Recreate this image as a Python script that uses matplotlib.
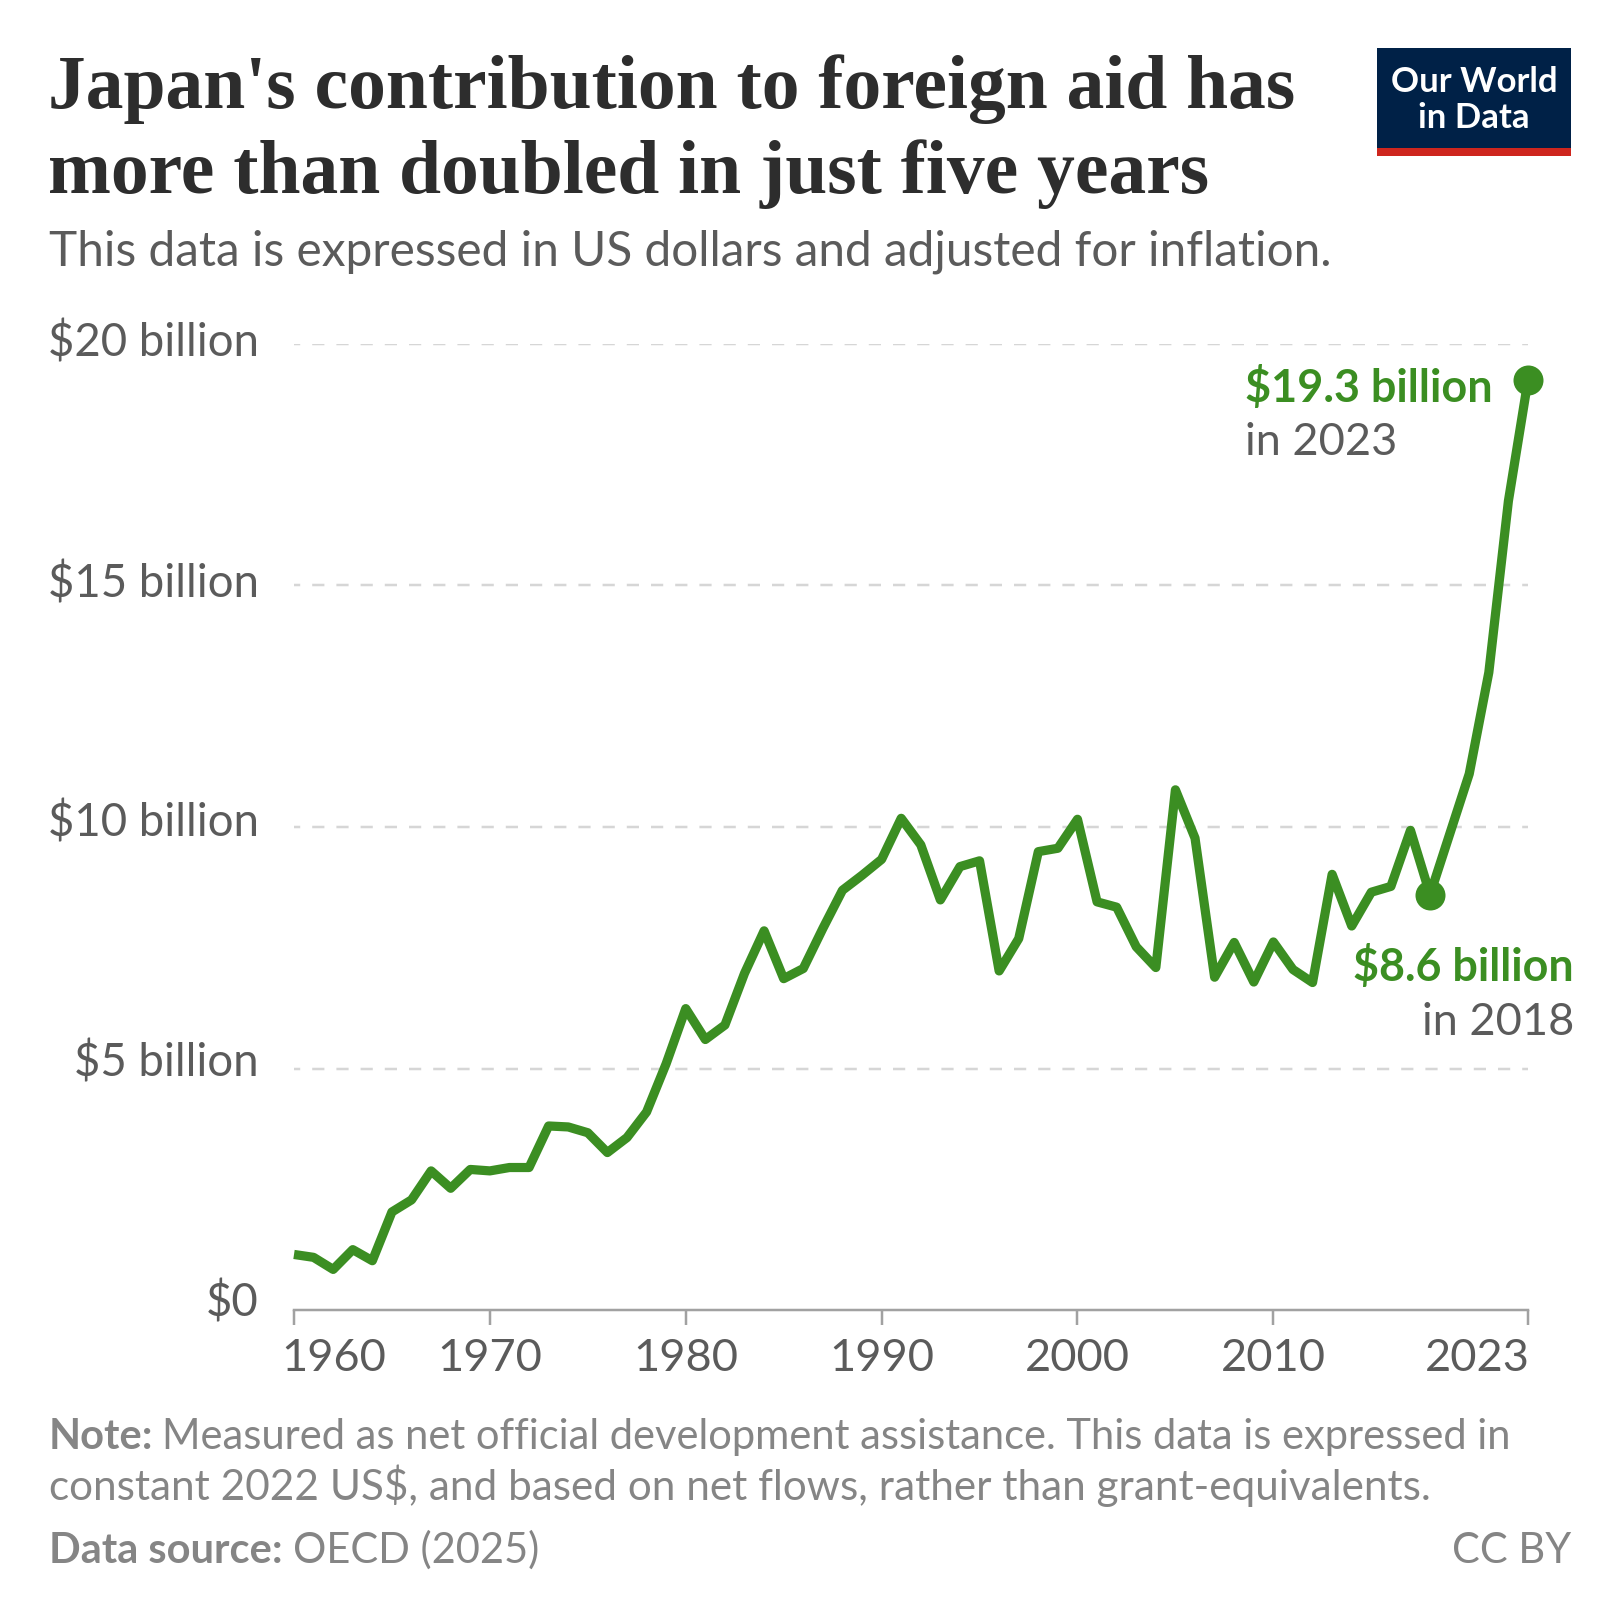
import matplotlib
matplotlib.use('Agg')
import matplotlib.pyplot as plt
from matplotlib.patches import Rectangle
from matplotlib.transforms import ScaledTranslation

# data, billions of constant 2022 US$
years = list(range(1960, 2024))
aid = [1.15, 1.09, 0.84, 1.25, 1.02, 2.03, 2.28, 2.88, 2.52, 2.91,
       2.88, 2.95, 2.95, 3.81, 3.79, 3.67, 3.26, 3.57, 4.10, 5.10,
       6.24, 5.60, 5.90, 6.97, 7.85, 6.86, 7.07, 7.90, 8.69, 9.00,
       9.33, 10.18, 9.63, 8.49, 9.18, 9.30, 7.02, 7.69, 9.49, 9.56,
       10.16, 8.45, 8.34, 7.52, 7.09, 10.77, 9.77, 6.89, 7.61, 6.79,
       7.62, 7.05, 6.78, 9.02, 7.95, 8.65, 8.77, 9.93, 8.60, 9.85,
       11.10, 13.20, 16.75, 19.25]
highlight_years = [2018, 2023]
highlight_vals = [8.6, 19.25]
y_ticks = [0, 5, 10, 15, 20]
y_labels = ['$0', '$5 billion', '$10 billion', '$15 billion', '$20 billion']
x_ticks = [1960, 1970, 1980, 1990, 2000, 2010, 2023]

GREEN = '#3b8e22'
GREY = '#5b5b5b'
FOOT = '#858585'
PX = 72 / 100  # points per pixel at dpi 100

plt.rcParams['font.family'] = ['Lato', 'DejaVu Sans']
plt.rcParams['lines.scale_dashes'] = False

fig = plt.figure(figsize=(16.2, 16.2), dpi=100, facecolor='white')

# overlay in pixel coordinates for title, logo, footer
bg = fig.add_axes([0, 0, 1, 1], zorder=0)
bg.set_xlim(0, 1620)
bg.set_ylim(1620, 0)
bg.axis('off')

ax = fig.add_axes([294 / 1620, (1620 - 1310) / 1620, 1234 / 1620, 966 / 1620], zorder=1)
ax.patch.set_alpha(0)
ax.set_xlim(1960, 2023)
ax.set_ylim(0, 20)

for v in y_ticks[1:]:
    ax.axhline(v, color='#d6d6d6', lw=2.5 * PX, ls=(6 * PX, (12.2 * PX, 12 * PX)), zorder=1)

ax.plot(years, aid, color=GREEN, lw=9.2 * PX, solid_joinstyle='round',
        solid_capstyle='butt', clip_on=False, zorder=3)
ax.plot(highlight_years, highlight_vals, 'o', color=GREEN, ms=30 * PX, mew=0,
        clip_on=False, zorder=4)

for s in ['top', 'right', 'left']:
    ax.spines[s].set_visible(False)
ax.spines['bottom'].set_color('#a1a1a1')
ax.spines['bottom'].set_linewidth(2.5 * PX)

ax.set_yticks(y_ticks)
ax.set_yticklabels(y_labels, fontsize=32.8, color=GREY, va='center_baseline')
ax.tick_params(axis='y', length=0, pad=35.5 * PX)
# labels sit a little above their gridlines, more so lower down
label_lift = [12, 10, 8, 6, 5]
for lab, up in zip(ax.get_yticklabels(), label_lift):
    lab.set_transform(lab.get_transform() + ScaledTranslation(0, up / 100, fig.dpi_scale_trans))

ax.set_xticks(x_ticks)
ax.set_xticklabels([str(x) for x in x_ticks], fontsize=32.5, color=GREY)
ax.tick_params(axis='x', length=15 * PX, width=2.5 * PX, color='#a1a1a1', pad=13 * PX)
first = ax.get_xticklabels()[0]
first.set_ha('left')
first.set_transform(first.get_transform() + ScaledTranslation(-13 / 100, 0, fig.dpi_scale_trans))
last = ax.get_xticklabels()[-1]
last.set_ha('right')
last.set_transform(last.get_transform() + ScaledTranslation(2 / 100, 0, fig.dpi_scale_trans))

# title and subtitle
bg.text(48, 108, "Japan's contribution to foreign aid has", fontsize=54.4, fontweight='bold',
        family=['Liberation Serif'], color='#2d2d2d', va='baseline')
bg.text(48, 193, 'more than doubled in just five years', fontsize=54.4, fontweight='bold',
        family=['Liberation Serif'], color='#2d2d2d', va='baseline')
bg.text(49, 265, 'This data is expressed in US dollars and adjusted for inflation.',
        fontsize=34.4, color=GREY, va='baseline')

# logo
bg.add_patch(Rectangle((1377, 48), 194, 100, color='#002147', lw=0))
bg.add_patch(Rectangle((1377, 148), 194, 8, color='#ce261e', lw=0))
bg.text(1474, 92, 'Our World', fontsize=25, fontweight='bold', color='white', ha='center', va='baseline')
bg.text(1474, 128, 'in Data', fontsize=25, fontweight='bold', color='white', ha='center', va='baseline')

# line annotations
bg.text(1245, 402, '$19.3 billion', fontsize=32.4, fontweight='bold', color=GREEN, va='baseline')
bg.text(1245, 455, 'in 2023', fontsize=32.5, color=GREY, va='baseline')
bg.text(1574, 981, '$8.6 billion', fontsize=32.3, fontweight='bold', color=GREEN, ha='right', va='baseline')
bg.text(1574, 1035, 'in 2018', fontsize=32.5, color=GREY, ha='right', va='baseline')


def mixed(x, y, bold, rest, gap, size):
    # bold lead-in followed by regular text on the same baseline
    t = bg.text(x, y, bold, fontsize=30, fontweight='bold', color=FOOT, va='baseline')
    w = t.get_window_extent(fig.canvas.get_renderer()).width
    bg.text(x + w + gap, y, rest, fontsize=size, color=FOOT, va='baseline')


mixed(49, 1449, 'Note:', 'Measured as net official development assistance. This data is expressed in', 8, 30)
bg.text(49, 1500, 'constant 2022 US$, and based on net flows, rather than grant-equivalents.',
        fontsize=30.4, color=FOOT, va='baseline')
mixed(49, 1563, 'Data source:', 'OECD (2025)', 10, 30)
bg.text(1571, 1563, 'CC BY', fontsize=30, color=FOOT, ha='right', va='baseline')

plt.savefig('out.png', dpi=100)
